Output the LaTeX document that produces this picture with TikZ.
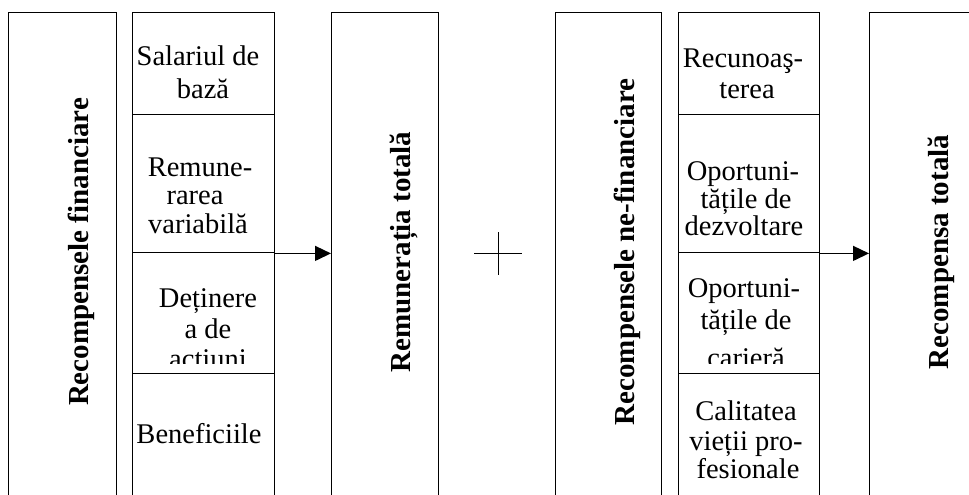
\documentclass[tikz,border=0pt]{standalone}
\usepackage{fontspec}
\setmainfont{Liberation Serif}
\usetikzlibrary{arrows.meta}
\begin{document}
\begin{tikzpicture}[x=1pt,y=-1pt,
  frame/.style={draw, line width=1.4pt, inner sep=0pt, anchor=north west, minimum height=500pt},
  cell/.style={draw, line width=1.4pt, inner sep=0pt, anchor=north west},
  txt/.style={inner sep=0pt, anchor=base, font=\fontsize{28.5}{30}\selectfont},
  title/.style={inner sep=0pt, anchor=base, rotate=90, font=\fontsize{29}{30}\selectfont\bfseries},
  arr/.style={line width=1.4pt, -{Triangle[length=16pt,width=15pt]}},
  plusline/.style={line width=1pt}]
\clip (0,0) rectangle (969,495);

% tall frames (open towards the bottom of the page)
\node[frame, minimum width=108pt] (fin)   at (8,12)   {};
\node[frame, minimum width=107pt] (rem)   at (331,12) {};
\node[frame, minimum width=106pt] (nefin) at (555,12) {};
\node[frame, minimum width=140pt] (tot)   at (869,12) {};

% financial components
\node[cell, minimum width=142pt, minimum height=102pt] (sal) at (132,12)  {};
\node[cell, minimum width=142pt, minimum height=138pt] (var) at (132,114) {};
\node[cell, minimum width=142pt, minimum height=121pt] (act) at (132,252) {};
\node[cell, minimum width=142pt, minimum height=140pt] (ben) at (132,373) {};

% non-financial components
\node[cell, minimum width=141pt, minimum height=102pt] (rec) at (678,12)  {};
\node[cell, minimum width=141pt, minimum height=138pt] (dez) at (678,114) {};
\node[cell, minimum width=141pt, minimum height=121pt] (car) at (678,252) {};
\node[cell, minimum width=141pt, minimum height=140pt] (cal) at (678,373) {};

% rotated titles
\node[title] (tfin)   at (88,252)  {Recompensele financiare};
\node[title] (trem)   at (410,252) {Remunerația totală};
\node[title] (tnefin) at (634,252) {Recompensele ne-financiare};
\node[title] (ttot)   at (948,252) {Recompensa totală};

% cell texts
\node[txt] (sal1) at (198,66)  {Salariul de};
\node[txt] (sal2) at (203,98)  {bază};
\node[txt] (var1) at (200,176) {Remune-};
\node[txt] (var2) at (195,204) {rarea};
\node[txt] (var3) at (198,233) {variabilă};
\node[txt] (act1) at (208,307) {Deținere};
\node[txt] (act2) at (208,338) {a de};
\begin{scope}
  \clip (132,252) rectangle (274,363);
  \node[txt] (act3) at (208,368) {acțiuni};
\end{scope}
\node[txt] (ben1) at (199,443) {Beneficiile};

\node[txt] (rec1) at (743,67)  {Recunoaş-};
\node[txt] (rec2) at (747,98)  {terea};
\node[txt] (dez1) at (743,180) {Oportuni-};
\node[txt] (dez2) at (746,208) {tățile de};
\node[txt] (dez3) at (744,235) {dezvoltare};
\node[txt] (car1) at (744,297) {Oportuni-};
\node[txt] (car2) at (746,329) {tățile de};
\begin{scope}
  \clip (678,252) rectangle (819,363);
  \node[txt] (car3) at (746,367) {carieră};
\end{scope}
\node[txt] (cal1) at (746,420) {Calitatea};
\node[txt] (cal2) at (746,450) {vieții pro-};
\node[txt] (cal3) at (748,478) {fesionale};

% connectors
\draw[arr] (var.south east) -- (var.south east -| rem.west);
\draw[arr] (dez.south east) -- (dez.south east -| tot.west);

% plus sign
\coordinate (plus) at (498,253);
\draw[plusline] ([yshift=21pt]plus) -- ([yshift=-22pt]plus);
\draw[plusline] ([xshift=-24pt]plus) -- ([xshift=24pt]plus);
\end{tikzpicture}
\end{document}
